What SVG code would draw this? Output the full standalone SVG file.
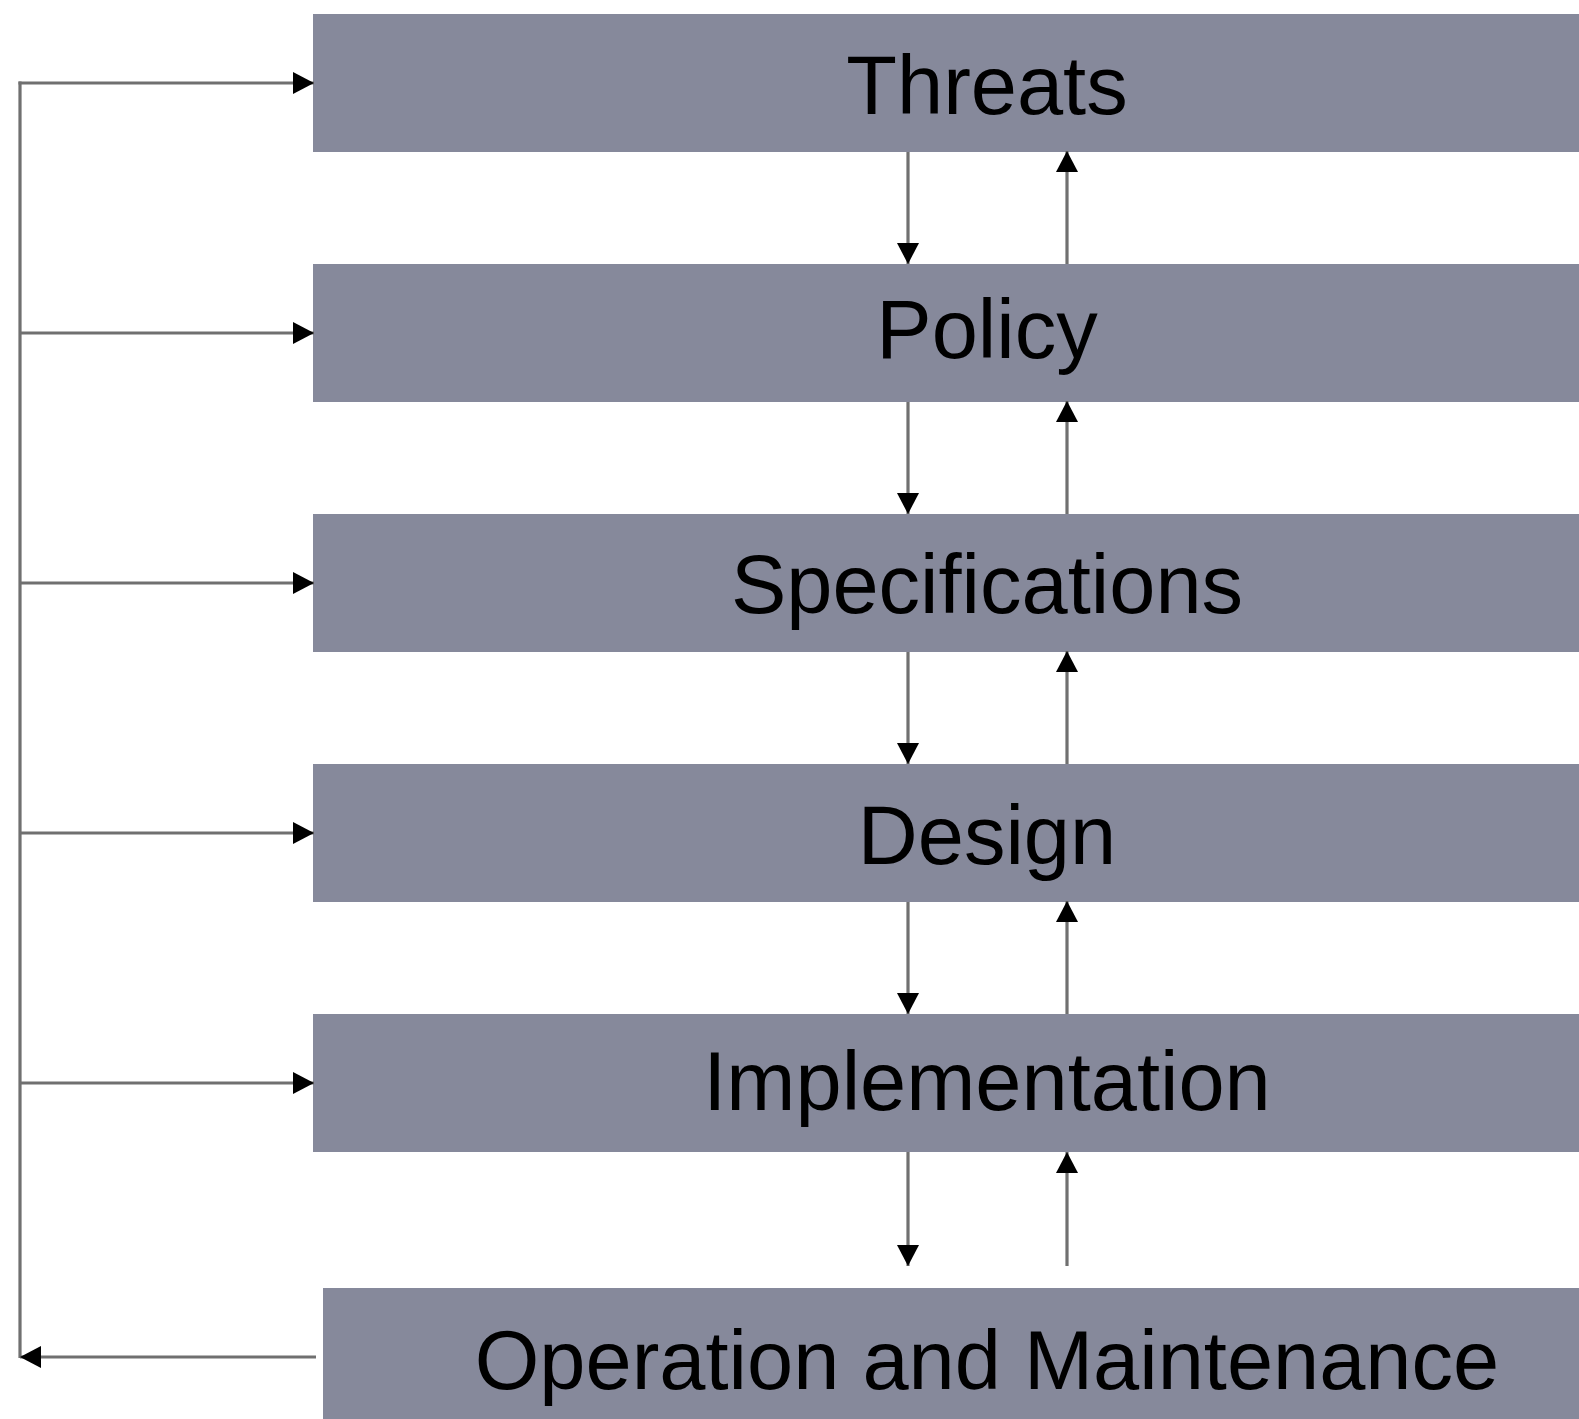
<svg xmlns="http://www.w3.org/2000/svg" width="1579" height="1419" viewBox="0 0 1579 1419">
  <style>
    .box { fill: #86899b; }
    .label { font-family: "Liberation Sans", Arial, sans-serif; font-size: 83px; fill: #000; text-anchor: middle; }
    .conn { stroke: #707070; stroke-width: 3.2; fill: none; }
  </style>
  <defs>
    <marker id="arrow" markerUnits="userSpaceOnUse" markerWidth="21" markerHeight="22" refX="21" refY="11" orient="auto">
      <path d="M0,0 L21,11 L0,22 z" fill="#000"/>
    </marker>
  </defs>
  <rect width="1579" height="1419" fill="#fff"/>

  <g id="node-threats">
    <rect class="box" x="313" y="14" width="1266" height="138"/>
    <text class="label" x="987" y="114">Threats</text>
  </g>
  <g id="node-policy">
    <rect class="box" x="313" y="264" width="1266" height="138"/>
    <text class="label" x="987" y="358">Policy</text>
  </g>
  <g id="node-specifications">
    <rect class="box" x="313" y="514" width="1266" height="138"/>
    <text class="label" x="987" y="613">Specifications</text>
  </g>
  <g id="node-design">
    <rect class="box" x="313" y="764" width="1266" height="138"/>
    <text class="label" x="987" y="864">Design</text>
  </g>
  <g id="node-implementation">
    <rect class="box" x="313" y="1014" width="1266" height="138"/>
    <text class="label" x="987" y="1110">Implementation</text>
  </g>
  <g id="node-operation">
    <rect class="box" x="323" y="1288" width="1256" height="131"/>
    <text class="label" x="987" y="1389">Operation and Maintenance</text>
  </g>

  <g id="connectors">
    <line class="conn" x1="20" y1="81.5" x2="20" y2="1358"/>
    <line class="conn" x1="18.5" y1="83" x2="314" y2="83" marker-end="url(#arrow)"/>
    <line class="conn" x1="20" y1="333" x2="314" y2="333" marker-end="url(#arrow)"/>
    <line class="conn" x1="20" y1="583" x2="314" y2="583" marker-end="url(#arrow)"/>
    <line class="conn" x1="20" y1="833" x2="314" y2="833" marker-end="url(#arrow)"/>
    <line class="conn" x1="20" y1="1083" x2="314" y2="1083" marker-end="url(#arrow)"/>
    <line class="conn" x1="316" y1="1357" x2="20" y2="1357" marker-end="url(#arrow)"/>

    <line class="conn" x1="908" y1="152" x2="908" y2="264" marker-end="url(#arrow)"/>
    <line class="conn" x1="1067" y1="264" x2="1067" y2="151" marker-end="url(#arrow)"/>
    <line class="conn" x1="908" y1="402" x2="908" y2="514" marker-end="url(#arrow)"/>
    <line class="conn" x1="1067" y1="514" x2="1067" y2="401" marker-end="url(#arrow)"/>
    <line class="conn" x1="908" y1="652" x2="908" y2="764" marker-end="url(#arrow)"/>
    <line class="conn" x1="1067" y1="764" x2="1067" y2="651" marker-end="url(#arrow)"/>
    <line class="conn" x1="908" y1="902" x2="908" y2="1014" marker-end="url(#arrow)"/>
    <line class="conn" x1="1067" y1="1014" x2="1067" y2="901" marker-end="url(#arrow)"/>
    <line class="conn" x1="908" y1="1152" x2="908" y2="1266" marker-end="url(#arrow)"/>
    <line class="conn" x1="1067" y1="1266" x2="1067" y2="1152" marker-end="url(#arrow)"/>
  </g>
</svg>
